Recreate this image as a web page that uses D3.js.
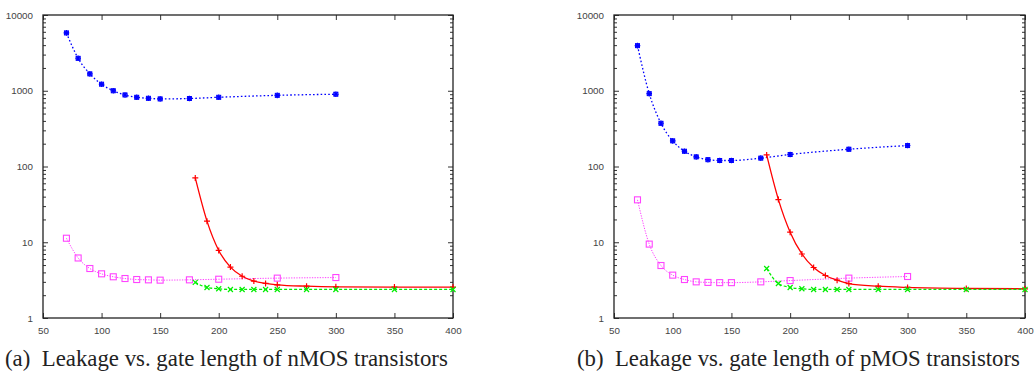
<!DOCTYPE html>
<html><head><meta charset="utf-8">
<script src="https://cdn.jsdelivr.net/npm/d3@7"></script>
<style>body{margin:0;background:#fff}svg{display:block}</style>
</head><body>
<svg id="c" width="1034" height="376"></svg>
<script>
// ---- data ----
const xTicks = [50, 100, 150, 200, 250, 300, 350, 400];
const yTicks = [1, 10, 100, 1000, 10000];
const captions = ["(a)  Leakage vs. gate length of nMOS transistors",
                  "(b)  Leakage vs. gate length of pMOS transistors"];

const xShort = [70, 80, 90, 100, 110, 120, 130, 140, 150, 175, 200, 250, 300];
const xLong  = [180, 190, 200, 210, 220, 230, 240, 250, 275, 300, 350, 400];

// nMOS
const nBlue  = [5800, 2680, 1670, 1220, 1000, 880, 820, 795, 780, 790, 820, 870, 900];
const nPink  = [11.3, 6.2, 4.5, 3.83, 3.5, 3.32, 3.22, 3.19, 3.16, 3.19, 3.25, 3.36, 3.42];
const nRed   = [70.7, 19, 7.8, 4.7, 3.56, 3.07, 2.86, 2.74, 2.63, 2.58, 2.56, 2.56];
const nGreen = [2.95, 2.53, 2.43, 2.38, 2.38, 2.38, 2.38, 2.38, 2.38, 2.38, 2.38, 2.38];
// pMOS
const pBlue  = [3940, 916, 372, 218, 159, 134, 123, 120, 120, 129, 144, 169, 189];
const pPink  = [36.3, 9.45, 4.93, 3.68, 3.22, 3.0, 2.95, 2.93, 2.93, 3.0, 3.12, 3.36, 3.53];
const pRed   = [142, 36.6, 13.6, 7.0, 4.64, 3.64, 3.16, 2.85, 2.63, 2.53, 2.45, 2.43];
const pGreen = [4.5, 2.85, 2.53, 2.43, 2.38, 2.38, 2.38, 2.38, 2.38, 2.38, 2.38, 2.38];

const panels = [
  {left: 43, right: 453, caption: captions[0], capX: 5,
   series: [{x: xShort, y: nBlue, kind: "blue"}, {x: xShort, y: nPink, kind: "pink"},
            {x: xLong, y: nRed, kind: "red"}, {x: xLong, y: nGreen, kind: "green"}]},
  {left: 614, right: 1025, caption: captions[1], capX: 577,
   series: [{x: xShort, y: pBlue, kind: "blue"}, {x: xShort, y: pPink, kind: "pink"},
            {x: xLong, y: pRed, kind: "red"}, {x: xLong, y: pGreen, kind: "green"}]}
];

const styles = {
  blue:  {color: "#0000ff", dash: "1.6,2.2", width: 1.3},
  pink:  {color: "#ff44ff", dash: "1.3,1.3", width: 1.0},
  red:   {color: "#ff0000", dash: null, width: 1.3},
  green: {color: "#00ee00", dash: "3,2", width: 1.3}
};

const svg = d3.select("#c");
const plotTop = 15, plotBottom = 318;

panels.forEach(p => {
  const x = d3.scaleLinear().domain([50, 400]).range([p.left, p.right]);
  const y = d3.scaleLog().domain([1, 10000]).range([plotBottom, plotTop]);
  const g = svg.append("g");

  const minor = [];
  yTicks.slice(0, -1).forEach(d => { for (let k = 2; k <= 9; k++) minor.push(d * k); });

  const axL = d3.axisLeft(y).tickValues(yTicks).tickFormat(d3.format("d")).tickSizeInner(-5).tickSizeOuter(0).tickPadding(10);
  g.append("g").attr("transform", `translate(${p.left},0)`).call(axL);
  const axR = d3.axisRight(y).tickValues(yTicks).tickFormat("").tickSizeInner(-5).tickSizeOuter(0);
  g.append("g").attr("transform", `translate(${p.right},0)`).call(axR);
  const axLm = d3.axisLeft(y).tickValues(minor).tickFormat("").tickSizeInner(-3).tickSizeOuter(0);
  g.append("g").attr("transform", `translate(${p.left},0)`).call(axLm);
  const axRm = d3.axisRight(y).tickValues(minor).tickFormat("").tickSizeInner(-3).tickSizeOuter(0);
  g.append("g").attr("transform", `translate(${p.right},0)`).call(axRm);

  const axB = d3.axisBottom(x).tickValues(xTicks).tickSizeInner(-5).tickSizeOuter(0).tickPadding(9);
  g.append("g").attr("transform", `translate(0,${plotBottom})`).call(axB);
  const axT = d3.axisTop(x).tickValues(xTicks).tickFormat("").tickSizeInner(-5).tickSizeOuter(0);
  g.append("g").attr("transform", `translate(0,${plotTop})`).call(axT);

  g.selectAll(".domain").remove();
  g.selectAll(".tick line").attr("stroke", "#333").attr("stroke-width", 1);
  g.selectAll(".tick text").attr("fill", "#444").attr("font-family", "Liberation Sans, Arial, sans-serif").attr("font-size", 9.8);

  g.append("rect").attr("x", p.left).attr("y", plotTop).attr("width", p.right - p.left).attr("height", plotBottom - plotTop)
    .attr("fill", "none").attr("stroke", "#222").attr("stroke-width", 1.3);

  p.series.forEach(s => {
    const st = styles[s.kind];
    const pts = s.x.map((xv, i) => [x(xv), y(s.y[i])]);
    const line = d3.line().curve(d3.curveMonotoneX);
    g.append("path").attr("d", line(pts)).attr("fill", "none").attr("stroke", st.color)
      .attr("stroke-width", st.width).attr("stroke-dasharray", st.dash);
    const m = g.append("g").attr("stroke", st.color).attr("fill", "none");
    pts.forEach(([px, py]) => {
      if (s.kind === "blue") {
        m.append("rect").attr("x", px - 2).attr("y", py - 2).attr("width", 4).attr("height", 4).attr("stroke-width", 1);
        m.append("path").attr("d", `M${px-2},${py-2}L${px+2},${py+2}M${px-2},${py+2}L${px+2},${py-2}M${px-2.8},${py}L${px+2.8},${py}M${px},${py-2.8}L${px},${py+2.8}`).attr("stroke-width", 1.1);
      } else if (s.kind === "pink") {
        m.append("rect").attr("x", px - 3).attr("y", py - 3).attr("width", 6).attr("height", 6).attr("stroke-width", 1.1);
      } else if (s.kind === "red") {
        m.append("path").attr("d", `M${px-3},${py}L${px+3},${py}M${px},${py-3}L${px},${py+3}`).attr("stroke-width", 1.2);
      } else {
        m.append("path").attr("d", `M${px-2.5},${py-2.5}L${px+2.5},${py+2.5}M${px-2.5},${py+2.5}L${px+2.5},${py-2.5}`).attr("stroke-width", 1.2);
      }
    });
  });

  const t = svg.append("text").attr("x", p.capX).attr("y", 366).text(p.caption)
    .attr("font-family", "Liberation Serif, serif").attr("font-size", 18).attr("fill", "#222")
    .style("white-space", "pre");
  const w = t.node().getComputedTextLength();
  t.attr("font-size", 18 * 443 / w);
});
</script>
</body></html>
